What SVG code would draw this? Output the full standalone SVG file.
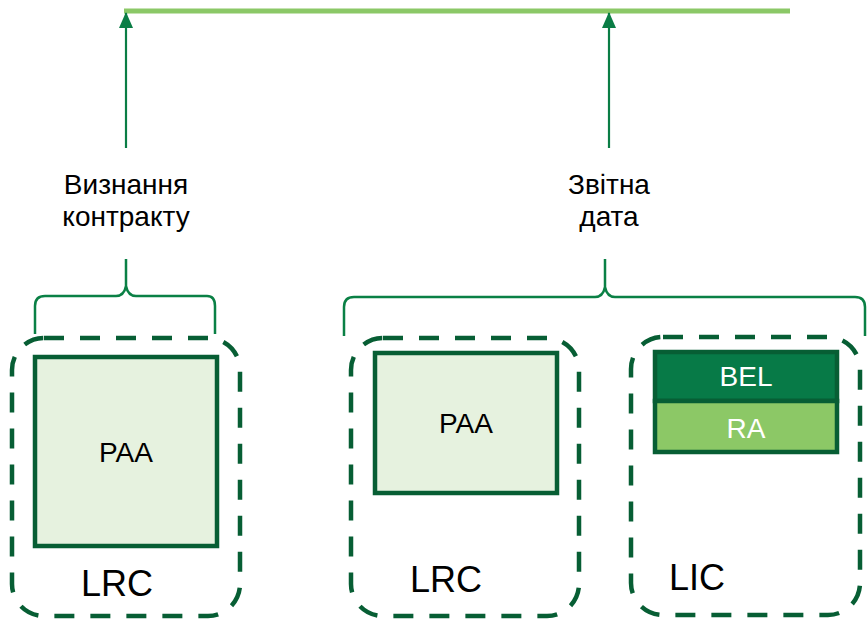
<svg xmlns="http://www.w3.org/2000/svg" width="867" height="620" viewBox="0 0 867 620">
<defs>
<marker id="ah" viewBox="0 0 16 14" refX="15" refY="7" markerWidth="16" markerHeight="14" markerUnits="userSpaceOnUse" orient="auto">
<path d="M0,0 L16,7 L0,14 Z" fill="#0A7D45"/>
</marker>
</defs>
<style>
text{font-family:"Liberation Sans",Arial,sans-serif;text-anchor:middle;fill:#000}
.lbl{font-size:28px}
.big{font-size:36px}
.dash{fill:none;stroke:#075E34;stroke-width:4.5;stroke-dasharray:20 16}
.box{stroke:#075E34;stroke-width:4.5}
.brace{fill:none;stroke:#0A8045;stroke-width:2.5}
.arrow{stroke:#0A7D45;stroke-width:2.2}
.w{fill:#fff}
</style>
<g id="timeline">
<line x1="124" y1="11" x2="790" y2="11" stroke="#8BC867" stroke-width="5"/>
</g>
<g id="connectors">
<line class="arrow" x1="126" y1="148" x2="126" y2="13" marker-end="url(#ah)"/>
<line class="arrow" x1="609" y1="148" x2="609" y2="13" marker-end="url(#ah)"/>
<path class="brace" d="M35,334 L35,306 Q35,296 45,296 L116,296 Q124,296 126,286 L126,259 M126,259 L126,286 Q128,296 136,296 L207,296 Q215,296 215,306 L215,334"/>
<path class="brace" d="M344,336 L344,307 Q344,297 354,297 L595,297 Q603,297 605,287 L605,259 M605,259 L605,287 Q607,297 615,297 L855,297 Q865,297 865,307 L865,336"/>
</g>
<g id="label-recognition">
<text class="lbl" x="126" y="194">Визнання</text>
<text class="lbl" x="126" y="226">контракту</text>
</g>
<g id="label-reporting">
<text class="lbl" x="609" y="194">Звітна</text>
<text class="lbl" x="609" y="226">дата</text>
</g>
<g id="lrc1">
<rect class="dash" x="12" y="338" width="228" height="278" rx="32"/>
<rect class="box" x="35" y="357" width="182" height="189" fill="#E6F2DF"/>
<text class="lbl" x="126" y="462">PAA</text>
<text class="big" x="117" y="596">LRC</text>
</g>
<g id="lrc2">
<rect class="dash" x="351" y="338" width="228" height="278" rx="32"/>
<rect class="box" x="375" y="353" width="182" height="140" fill="#E6F2DF"/>
<text class="lbl" x="466" y="433">PAA</text>
<text class="big" x="446" y="592">LRC</text>
</g>
<g id="lic">
<rect class="dash" x="631" y="337" width="229" height="278" rx="32"/>
<rect class="box" x="655" y="352" width="182" height="49" fill="#077A47"/>
<rect class="box" x="655" y="401" width="182" height="51" fill="#8CC866"/>
<text class="lbl w" x="746" y="386">BEL</text>
<text class="lbl w" x="746" y="438">RA</text>
<text class="big" x="697" y="590">LIC</text>
</g>
</svg>
